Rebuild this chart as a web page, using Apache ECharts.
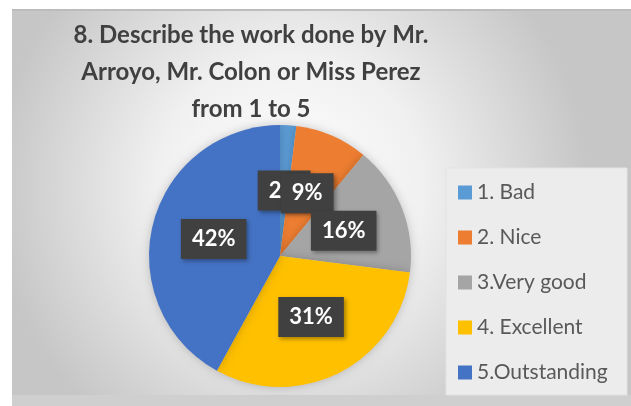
<!DOCTYPE html>
<html>
<head>
<meta charset="utf-8">
<script src="https://cdn.jsdelivr.net/npm/echarts@6/dist/echarts.min.js"></script>
<style>
html,body{margin:0;padding:0;background:#fff;}
#c{width:631px;height:406px;}
</style>
</head>
<body>
<div id="c"></div>
<script>
var titleLines = ['8. Describe the work done by Mr.', 'Arroyo, Mr. Colon or Miss Perez', 'from 1 to 5'];
var categories = ['1. Bad', '2. Nice', '3.Very good', '4. Excellent', '5.Outstanding'];
var values = [2, 9, 16, 31, 42];
var colors = ['#5B9BD5', '#ED7D31', '#A5A5A5', '#FFC000', '#4472C4'];

var FONT = 'Lato, "Open Sans", sans-serif';
var chart = echarts.init(document.getElementById('c'), null, {renderer: 'canvas'});
var data = categories.map(function (c, i) {
  var d = {name: c, value: values[i], itemStyle: {color: colors[i]}};
  if (i === 0) d.label = {position: 'center'};
  return d;
});
chart.setOption({
  animation: false,
  color: colors,
  graphic: [
    {type: 'rect', z: -10, shape: {x: 12, y: 9, width: 619, height: 397},
      style: {fill: new echarts.graphic.RadialGradient(0.45, 0.45, 0.75, [
        {offset: 0, color: '#ffffff'}, {offset: 0.45, color: '#f0f0f0'}, {offset: 1, color: '#c6c6c6'}])}},
    {type: 'rect', z: -9, shape: {x: 12, y: 9, width: 619, height: 2}, style: {fill: '#bcbcbc'}},
    {type: 'rect', z: -9, shape: {x: 12, y: 395, width: 619, height: 11}, style: {fill: '#cfcfcf'}},
    {type: 'rect', z: -8, shape: {x: 446, y: 168, width: 181, height: 227},
      style: {fill: '#ececec', stroke: '#e2e2e2', lineWidth: 1}}
  ],
  title: {
    text: titleLines.join('\n'),
    left: 246, top: 12, textAlign: 'center',
    textStyle: {fontFamily: FONT, fontSize: 24, fontWeight: 'bold', color: '#404040', lineHeight: 37}
  },
  legend: {
    orient: 'vertical', left: 453, top: 177,
    icon: 'rect', itemWidth: 14, itemHeight: 14, itemGap: 24,
    data: categories,
    textStyle: {fontFamily: FONT, fontSize: 21, lineHeight: 21, color: '#595959'}
  },
  series: [{
    type: 'pie',
    center: [280, 256], radius: 131,
    startAngle: 90, clockwise: true,
    data: data,
    itemStyle: {borderWidth: 0, shadowBlur: 10, shadowColor: 'rgba(0,0,0,0.2)'},
    label: {
      show: true, position: 'inside',
      formatter: '{d}%',
      fontFamily: FONT, fontSize: 22, fontWeight: 'bold', color: '#ffffff',
      backgroundColor: '#404040', padding: [10, 11, 8, 11],
      shadowBlur: 4, shadowColor: 'rgba(0,0,0,0.35)', shadowOffsetX: 2, shadowOffsetY: 2
    },
    labelLayout: function (p) {
      if (p.dataIndex === 0) {
        return {x: p.rect.x + p.rect.width / 4, y: p.rect.y + p.rect.height / 2, align: 'center', verticalAlign: 'middle'};
      }
    },
    emphasis: {disabled: true},
    labelLine: {show: false}
  }]
});
</script>
</body>
</html>
